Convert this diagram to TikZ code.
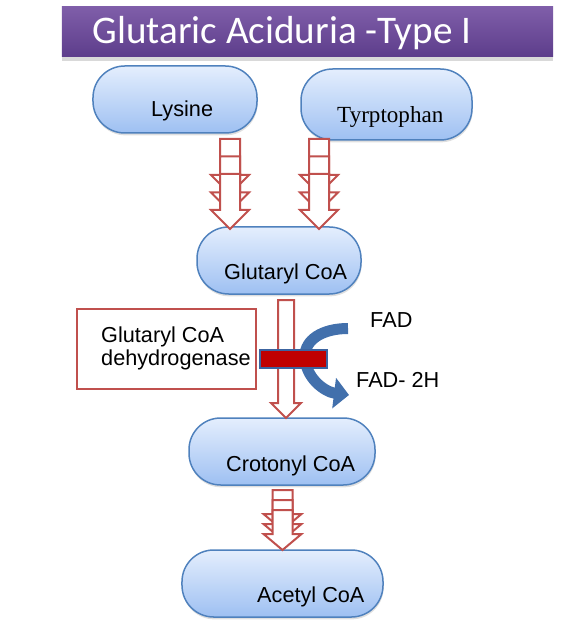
\documentclass[tikz,border=0pt]{standalone}
\usepackage{fontspec}
\setmainfont{Liberation Sans}
\newfontfamily\titlefont{Carlito}
\newfontfamily\tyrfont{Liberation Serif}
\usetikzlibrary{arrows.meta, positioning, shadows}
\definecolor{colred}{RGB}{192,80,77}
\definecolor{colblue}{RGB}{79,129,189}
\definecolor{colcurve}{RGB}{66,112,172}
\definecolor{coledge}{RGB}{60,100,160}
\definecolor{pilltop}{RGB}{228,238,253}
\definecolor{pillbot}{RGB}{158,192,242}
\definecolor{titletop}{RGB}{127,94,169}
\definecolor{titlebot}{RGB}{93,61,139}
\definecolor{barred}{RGB}{192,0,0}

\tikzset{
  pics/stackarrow/.style n args={3}{code={
    \foreach \k in {0,1,2}
      \filldraw[blockarr] (-10,\k*#1) -- (10,\k*#1) -- (10,\k*#1+#2)
        -- (19,\k*#1+#2) -- (0,\k*#1+#2+#3) -- (-19,\k*#1+#2)
        -- (-10,\k*#1+#2) -- cycle;
  }}
}

\begin{document}
\begin{tikzpicture}[
  x=0.03cm, y=-0.03cm,
  pill/.style={rectangle, rounded corners=0.95cm, draw=colblue, line width=0.045cm,
               top color=pilltop, bottom color=pillbot, minimum height=2.01cm,
               drop shadow={opacity=0.25, shadow xshift=0.5pt, shadow yshift=-2pt}},
  lbl/.style={anchor=base west, inner sep=0pt, font=\fontsize{18.5}{19.6}\selectfont},
  blockarr/.style={draw=colred, fill=white, line width=0.06cm, line join=miter},
  title/.style={rectangle, minimum width=14.73cm, minimum height=1.5cm,
                top color=titletop, bottom color=titlebot,
                drop shadow={opacity=0.3, shadow xshift=0pt, shadow yshift=-3pt}},
  enzyme/.style={rectangle, draw=colred, line width=0.06cm, fill=white,
                 minimum width=5.37cm, minimum height=2.4cm},
  bar/.style={rectangle, draw=coledge, line width=0.045cm, fill=barred,
              minimum width=2.01cm, minimum height=0.54cm},
  curvarr/.style={colcurve, line width=0.33cm,
                  -{Triangle[length=0.45cm, width=0.9cm]}}
]
\useasboundingbox (0,0) rectangle (563,629);

% Title
\node[title] (head) at (307.5,32) {};
\node[anchor=base, inner sep=0pt, text=white,
      font=\titlefont\fontsize{33.4}{34}\selectfont] (headtext) at (282,44)
    {Glutaric Aciduria -Type I};

% Amino acids
\node[pill, minimum width=4.92cm] (lys) at (175,99.5) {};
\node[lbl] (lystext) at (151,117) {Lysine};
\node[pill, minimum width=5.13cm, minimum height=2.13cm] (trp) at (386.5,104.5) {};
\node[lbl, font=\tyrfont\fontsize{19.7}{21}\selectfont] (trptext) at (337,123) {Tyrptophan};

% Intermediates
\node[pill, minimum width=4.92cm] (glut) at (279,260.5) {};
\node[lbl] (gluttext) at (224,279) {Glutaryl CoA};
\node[pill, minimum width=5.58cm] (crot) at (282,451.5) {};
\node[lbl] (crottext) at (226,471) {Crotonyl CoA};
\node[pill, minimum width=6.03cm] (acet) at (282.5,583.5) {};
\node[lbl] (acettext) at (257,602) {Acetyl CoA};

% Stacked arrows
\pic at (230,139) {stackarrow={17.5}{36}{19}};
\pic at (319,139) {stackarrow={17.5}{36}{19}};
\pic at (282.5,490) {stackarrow={10}{24}{16}};

% Glutaryl CoA -> Crotonyl CoA
\filldraw[blockarr] (278,300) -- (294,300) -- (294,403) -- (301,403)
  -- (286,418) -- (271,403) -- (278,403) -- cycle;

% Enzyme and block
\node[enzyme] (enz) at (166.5,349) {};
\node[lbl, anchor=west, align=left] (enztext) at (101,348)
    {Glutaryl CoA\\dehydrogenase};

% FAD -> FAD-2H
\node[lbl] (fad) at (370,327.5) {FAD};
\node[lbl] (fadh) at (356,387) {FAD- 2H};
\draw[curvarr] (348,328.5) .. controls (322,328.5) and (305,340) .. (305,356)
  .. controls (305,378) and (325,392) .. (349,395);
\node[bar] (block) at (293.5,359) {};
\end{tikzpicture}
\end{document}
